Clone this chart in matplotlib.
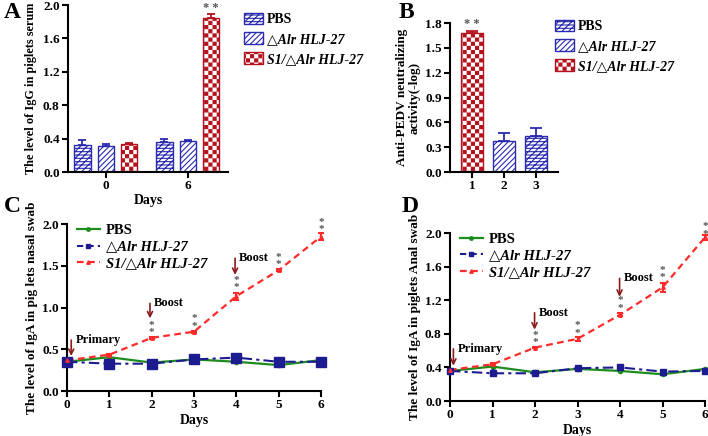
import warnings
import numpy as np
import matplotlib
matplotlib.use("Agg")
import matplotlib.pyplot as plt
import matplotlib.hatch as mhatch
from matplotlib.path import Path
from matplotlib.patches import Patch
from matplotlib.lines import Line2D

warnings.filterwarnings("ignore")

# ---------------- data ----------------
groups_A = ["PBS", "△Alr HLJ-27", "S1/△Alr HLJ-27"]
days_A = ["0", "6"]
igg_day0 = [0.325, 0.315, 0.335]
igg_day0_err = [0.06, 0.02, 0.008]
igg_day6 = [0.36, 0.37, 1.85]
igg_day6_err = [0.03, 0.015, 0.04]

b_ticks = ["1", "2", "3"]
neut_vals = [1.68, 0.37, 0.43]
neut_err = [0.02, 0.10, 0.10]

days = [0, 1, 2, 3, 4, 5, 6]
c_pbs = [0.35, 0.405, 0.34, 0.378, 0.35, 0.31, 0.37]
c_alr = [0.35, 0.327, 0.327, 0.378, 0.40, 0.35, 0.35]
c_alr_err = [0.0, 0.05, 0.01, 0.01, 0.01, 0.01, 0.01]
c_s1 = [0.367, 0.435, 0.637, 0.71, 1.135, 1.446, 1.85]
c_s1_err = [0.01, 0.01, 0.01, 0.01, 0.04, 0.01, 0.04]

d_pbs = [0.358, 0.41, 0.342, 0.382, 0.358, 0.318, 0.382]
d_alr = [0.358, 0.33, 0.33, 0.39, 0.40, 0.35, 0.358]
d_alr_err = [0.0, 0.05, 0.01, 0.01, 0.01, 0.01, 0.01]
d_s1 = [0.37, 0.437, 0.636, 0.74, 1.026, 1.352, 1.948]
d_s1_err = [0.01, 0.01, 0.01, 0.02, 0.02, 0.05, 0.03]

star_days = [2, 3, 4, 5, 6]

# ---------------- custom checkerboard hatch ----------------
class CheckerHatch(mhatch.HatchPatternBase):
    def __init__(self, hatch, density):
        k = hatch.count('#')
        n = int(4 * k * density)
        if n % 2:
            n += 1
        self.n = n
        self.cells = [(i, j) for i in range(n) for j in range(n) if (i + j) % 2 == 0] if n else []
        self.num_vertices = len(self.cells) * 5

    def set_vertices_and_codes(self, vertices, codes):
        s = 1.0 / self.n
        inset = plt.rcParams['hatch.linewidth'] / 72.0 / 2.0
        for idx, (i, j) in enumerate(self.cells):
            x0, y0 = i * s + inset, j * s + inset
            x1, y1 = (i + 1) * s - inset, (j + 1) * s - inset
            vertices[idx * 5:idx * 5 + 5] = [(x0, y0), (x1, y0), (x1, y1), (x0, y1), (x0, y0)]
            codes[idx * 5:idx * 5 + 5] = [Path.MOVETO, Path.LINETO, Path.LINETO,
                                         Path.LINETO, Path.CLOSEPOLY]

mhatch._hatch_types.append(CheckerHatch)

# ---------------- style ----------------
plt.rcParams['font.family'] = ['Liberation Serif', 'DejaVu Serif']
plt.rcParams['font.weight'] = 'bold'
plt.rcParams['hatch.linewidth'] = 0.8
plt.rcParams['axes.linewidth'] = 1.5

BLUE = '#2b2bb0'
RED = '#b3121d'
GREEN = '#1e8c1e'
NAVY = '#1c1c90'
LRED = '#ff2a2a'
ARROW = '#8b1a1a'
STAR = '#555555'

styles = [dict(hatch='/////-----', edgecolor=BLUE),
          dict(hatch='//////', edgecolor=BLUE),
          dict(hatch='#', edgecolor=RED)]

fig = plt.figure(figsize=(7.08, 4.36), dpi=100)
W, H = 708.0, 436.0


def add_ax(l, t, r, b):
    return fig.add_axes([l / W, 1 - b / H, (r - l) / W, (b - t) / H])


def style_ax(ax):
    for s in ['top', 'right']:
        ax.spines[s].set_visible(False)
    ax.tick_params(axis='both', which='major', length=4, width=1.5, labelsize=9.5, pad=2)
    for lab in ax.get_xticklabels() + ax.get_yticklabels():
        lab.set_fontweight('bold')


def leg_labels():
    return list(groups_A)


LEG_PROP = dict(family=['Liberation Serif', 'DejaVu Serif'], weight='bold', size=10)

# ---------------- Panel A ----------------
axA = add_ax(68, 5, 228, 172)
xg = np.arange(len(days_A))
bw = 0.2
off = 0.285
for i in range(3):
    vals = [igg_day0[i], igg_day6[i]]
    errs = [igg_day0_err[i], igg_day6_err[i]]
    ec = styles[i]['edgecolor']
    axA.bar(xg + (i - 1) * off, vals, bw, facecolor='white', linewidth=1.0,
            label=groups_A[i], **styles[i])
    axA.errorbar(xg + (i - 1) * off, vals, yerr=[[0, 0], errs], fmt='none',
                 ecolor=ec, elinewidth=1.3, capsize=3, capthick=1.3)
axA.text(xg[1] + off, igg_day6[2] + igg_day6_err[2] + 0.005, "* *", ha='center', va='bottom',
         color=STAR, fontsize=9)
axA.set_xlim(-0.46, 1.49)
axA.set_ylim(0, 2.0)
axA.set_yticks(np.arange(0, 2.01, 0.4))
axA.set_yticklabels([f"{v:.1f}" for v in np.arange(0, 2.01, 0.4)])
axA.set_xticks(xg)
axA.set_xticklabels(days_A)
axA.set_xlabel("Days", fontsize=10, fontweight='bold', labelpad=1)
axA.set_ylabel("The level of IgG in piglets serum", fontsize=8.8, fontweight='bold', labelpad=4)
style_ax(axA)

legA = fig.legend([Patch(facecolor='white', **styles[i]) for i in range(3)], leg_labels(),
                  loc='upper left', bbox_to_anchor=(238 / W, 1 - 7 / H), frameon=False,
                  prop=LEG_PROP, handlelength=1.4, handleheight=0.9, handletextpad=0.3,
                  labelspacing=0.45, borderaxespad=0)
for k, t in enumerate(legA.get_texts()):
    if k > 0:
        t.set_fontstyle('italic')

# ---------------- Panel B ----------------
axB = add_ax(450, 23, 558, 172)
xb = np.arange(1, 4)
b_styles = [styles[2], styles[1], styles[0]]
b_cols = [RED, BLUE, BLUE]
for i in range(3):
    axB.bar(xb[i], neut_vals[i], 0.69, facecolor='white', linewidth=1.0, **b_styles[i])
    axB.errorbar(xb[i], neut_vals[i], yerr=[[0], [neut_err[i]]], fmt='none',
                 ecolor=b_cols[i], elinewidth=1.3, capsize=4, capthick=1.3)
axB.text(xb[0], neut_vals[0] + neut_err[0] + 0.01, "* *", ha='center', va='bottom',
         color=STAR, fontsize=9)
axB.set_xlim(0.31, 3.69)
axB.set_ylim(0, 1.8)
axB.set_yticks(np.arange(0, 1.81, 0.3))
axB.set_yticklabels([f"{v:.1f}" for v in np.arange(0, 1.81, 0.3)])
axB.set_xticks(xb)
axB.set_xticklabels(b_ticks)
axB.set_ylabel("Anti-PEDV neutralizing\nactivity(-log)", fontsize=9.5, fontweight='bold',
               labelpad=3, linespacing=1.1)
style_ax(axB)

legB = fig.legend([Patch(facecolor='white', **styles[i]) for i in range(3)], leg_labels(),
                  loc='upper left', bbox_to_anchor=(549 / W, 1 - 14 / H), frameon=False,
                  prop=LEG_PROP, handlelength=1.4, handleheight=0.9, handletextpad=0.3,
                  labelspacing=0.45, borderaxespad=0)
for k, t in enumerate(legB.get_texts()):
    if k > 0:
        t.set_fontstyle('italic')


# ---------------- Line panels ----------------
def line_panel(ax, pbs, alr, alr_err, s1, s1_err, alr_ms, yticks, ylabel, stars_y, arrows):
    ax.plot(days, pbs, '-', color=GREEN, lw=1.6, marker='o', ms=3, clip_on=False, zorder=3)
    ax.errorbar(days, alr, yerr=alr_err, fmt='s', color=NAVY, ms=alr_ms, elinewidth=1.2,
                capsize=0, clip_on=False, zorder=4)
    ax.plot(days, alr, linestyle=(0, (5, 2, 1.5, 2)), color=NAVY, lw=1.5, zorder=3)
    ax.errorbar(days, s1, yerr=s1_err, fmt='^', color=LRED, ms=2.5, elinewidth=1.5,
                capsize=2, capthick=1.5, clip_on=False, zorder=4)
    ax.plot(days, s1, linestyle=(0, (3, 2)), color=LRED, lw=1.6, zorder=3)
    for d, y in zip(star_days, stars_y):
        ax.text(d, y, "*\n*", ha='center', va='center', color=STAR, fontsize=8,
                linespacing=0.75, clip_on=False)
    for (xa, y0, y1, label) in arrows:
        ax.annotate("", xy=(xa, y1), xytext=(xa, y0),
                    arrowprops=dict(arrowstyle='->', color=ARROW, lw=1.2,
                                    mutation_scale=9, shrinkA=0, shrinkB=0))
        ax.text(xa + 0.1, y0, label, ha='left', va='center', fontsize=9, fontweight='bold')
    ax.set_xlim(0, 6)
    ax.set_ylim(0, 2.0)
    ax.set_xticks(days)
    ax.set_yticks(yticks)
    ax.set_yticklabels([f"{v:.1f}" for v in yticks])
    ax.set_xlabel("Days", fontsize=10, fontweight='bold', labelpad=2)
    ax.set_ylabel(ylabel, fontsize=9.5, fontweight='bold', labelpad=3)
    style_ax(ax)
    h = [Line2D([], [], color=GREEN, lw=1.6, marker='o', ms=2.5),
         Line2D([], [], color=NAVY, lw=1.5, linestyle=(0, (3, 2)), marker='s', ms=2.5),
         Line2D([], [], color=LRED, lw=1.6, linestyle=(0, (3, 2)), marker='^', ms=2.5)]
    leg = ax.legend(h, leg_labels(), loc='upper left', bbox_to_anchor=(0.015, 1.035),
                    frameon=False,
                    prop=dict(family=['Liberation Serif', 'DejaVu Serif'], weight='bold', size=10.5),
                    handlelength=1.6, handletextpad=0.4, labelspacing=0.22, borderaxespad=0)
    for k, t in enumerate(leg.get_texts()):
        if k > 0:
            t.set_fontstyle('italic')


axC = add_ax(67, 224, 321, 391)
line_panel(axC, c_pbs, c_alr, c_alr_err, c_s1, c_s1_err, 7,
           np.arange(0, 2.01, 0.5), "The level of IgA in pig lets nasal swab",
           [0.74, 0.82, 1.28, 1.56, 1.98],
           [(0.1, 0.61, 0.42, "Primary"), (1.96, 1.05, 0.87, "Boost"),
            (3.97, 1.59, 1.39, "Boost")])

axD = add_ax(450, 233, 705, 401)
line_panel(axD, d_pbs, d_alr, d_alr_err, d_s1, d_s1_err, 4,
           np.arange(0, 2.01, 0.4), "The level of IgA in piglets Anal swab",
           [0.74, 0.85, 1.15, 1.51, 2.03],
           [(0.08, 0.62, 0.42, "Primary"), (1.99, 1.05, 0.85, "Boost"),
            (3.99, 1.46, 1.24, "Boost")])

# ---------------- panel letters ----------------
for (x, y, s) in [(12, 13, "A"), (406, 13, "B"), (12, 206, "C"), (410, 206, "D")]:
    fig.text(x / W, 1 - y / H, s, fontsize=17, fontweight='bold', ha='center', va='center')

fig.savefig("out.png", dpi=100)
